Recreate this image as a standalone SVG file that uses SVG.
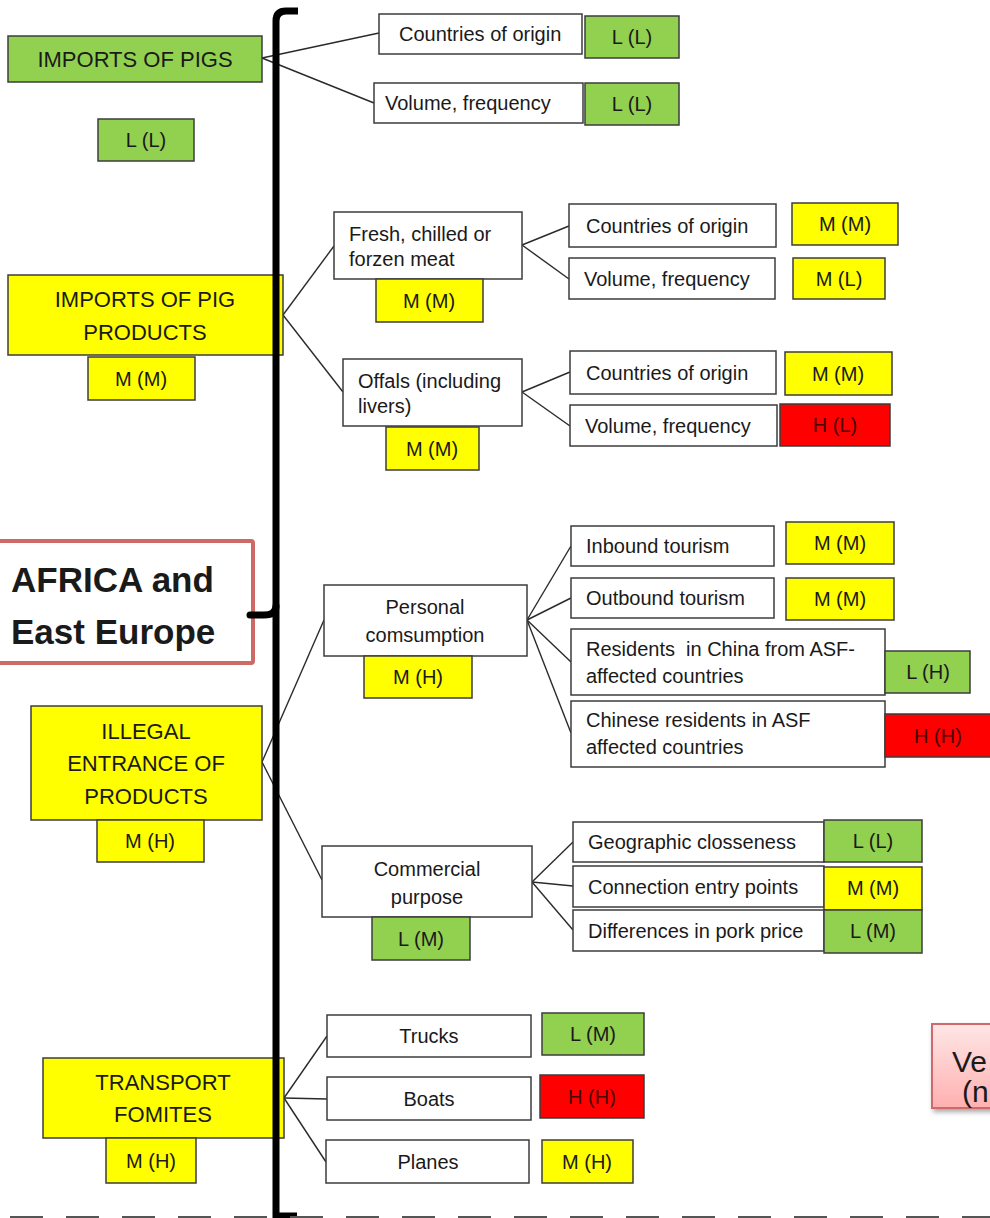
<svg xmlns="http://www.w3.org/2000/svg" width="990" height="1218" viewBox="0 0 990 1218">
  <style>
    text { font-family: "Liberation Sans", Arial, sans-serif; fill: #1a1a1a; }
    .box { stroke: #3c3c3c; stroke-width: 1.5; }
    .w { fill: #ffffff; }
    .g { fill: #92d050; }
    .y { fill: #ffff00; }
    .r { fill: #ff0000; }
    .big { font-size: 22px; text-anchor: middle; }
    .lbl { font-size: 20px; }
    .mid { font-size: 20px; text-anchor: middle; }
    .sc { font-size: 20px; text-anchor: middle; }
    .rt { fill: #4a0000; }
    .conn line { stroke: #2a2a2a; stroke-width: 1.4; }
  </style>
  <defs>
    <linearGradient id="pinkFill" x1="0" y1="0" x2="0" y2="1">
      <stop offset="0" stop-color="#ffe6e6"/>
      <stop offset="1" stop-color="#ffb0b0"/>
    </linearGradient>
    <filter id="shadow" x="-20%" y="-20%" width="140%" height="150%">
      <feDropShadow dx="2" dy="3" stdDeviation="2.5" flood-color="#000" flood-opacity="0.35"/>
    </filter>
  </defs>
  <rect width="990" height="1218" fill="#ffffff"/>

  <!-- connectors -->
  <g id="connectors" class="conn">
    <line x1="262" y1="58" x2="379" y2="33"/>
    <line x1="262" y1="58" x2="374" y2="103"/>
    <line x1="283" y1="315" x2="334" y2="246"/>
    <line x1="283" y1="315" x2="343" y2="392"/>
    <line x1="522" y1="245" x2="569" y2="226"/>
    <line x1="522" y1="245" x2="569" y2="279"/>
    <line x1="522" y1="392" x2="570" y2="372"/>
    <line x1="522" y1="392" x2="570" y2="426"/>
    <line x1="262" y1="762" x2="324" y2="620"/>
    <line x1="262" y1="762" x2="322" y2="880"/>
    <line x1="527" y1="620" x2="571" y2="546"/>
    <line x1="527" y1="620" x2="571" y2="598"/>
    <line x1="527" y1="620" x2="571" y2="662"/>
    <line x1="527" y1="620" x2="571" y2="733"/>
    <line x1="532" y1="882" x2="573" y2="842"/>
    <line x1="532" y1="882" x2="573" y2="886"/>
    <line x1="532" y1="882" x2="573" y2="930"/>
    <line x1="284" y1="1098" x2="327" y2="1036"/>
    <line x1="284" y1="1098" x2="327" y2="1099"/>
    <line x1="284" y1="1098" x2="326" y2="1162"/>
  </g>

  <!-- imports of pigs -->
  <g id="imports-pigs">
    <rect class="box g" x="8" y="36" width="254" height="46"/>
    <text class="big" x="135" y="67">IMPORTS OF PIGS</text>
  </g>
  <g id="imports-pigs-score">
    <rect class="box g" x="98" y="119" width="96" height="42"/>
    <text class="sc" x="146" y="147">L (L)</text>
  </g>
  <g id="pigs-origin">
    <rect class="box w" x="379" y="14" width="203" height="40"/>
    <text class="lbl" x="399" y="41">Countries of origin</text>
  </g>
  <g id="pigs-origin-score">
    <rect class="box g" x="585" y="16" width="94" height="42"/>
    <text class="sc" x="632" y="44">L (L)</text>
  </g>
  <g id="pigs-volume">
    <rect class="box w" x="374" y="83" width="209" height="40"/>
    <text class="lbl" x="385" y="110">Volume, frequency</text>
  </g>
  <g id="pigs-volume-score">
    <rect class="box g" x="585" y="83" width="94" height="42"/>
    <text class="sc" x="632" y="111">L (L)</text>
  </g>

  <!-- imports of pig products -->
  <g id="imports-products">
    <rect class="box y" x="8" y="275" width="275" height="80"/>
    <text class="big" x="145" y="307">IMPORTS OF PIG</text>
    <text class="big" x="145" y="340">PRODUCTS</text>
  </g>
  <g id="imports-products-score">
    <rect class="box y" x="88" y="357" width="107" height="43"/>
    <text class="sc" x="141" y="386">M (M)</text>
  </g>
  <g id="fresh-meat">
    <rect class="box w" x="334" y="212" width="188" height="67"/>
    <text class="lbl" x="349" y="241">Fresh, chilled or</text>
    <text class="lbl" x="349" y="266">forzen meat</text>
  </g>
  <g id="fresh-meat-score">
    <rect class="box y" x="376" y="279" width="107" height="43"/>
    <text class="sc" x="429" y="308">M (M)</text>
  </g>
  <g id="meat-origin">
    <rect class="box w" x="569" y="204" width="207" height="43"/>
    <text class="lbl" x="586" y="233">Countries of origin</text>
  </g>
  <g id="meat-origin-score">
    <rect class="box y" x="792" y="203" width="106" height="42"/>
    <text class="sc" x="845" y="231">M (M)</text>
  </g>
  <g id="meat-volume">
    <rect class="box w" x="569" y="258" width="206" height="41"/>
    <text class="lbl" x="584" y="286">Volume, frequency</text>
  </g>
  <g id="meat-volume-score">
    <rect class="box y" x="793" y="258" width="92" height="41"/>
    <text class="sc" x="839" y="286">M (L)</text>
  </g>
  <g id="offals">
    <rect class="box w" x="343" y="359" width="179" height="67"/>
    <text class="lbl" x="358" y="388">Offals (including</text>
    <text class="lbl" x="358" y="413">livers)</text>
  </g>
  <g id="offals-score">
    <rect class="box y" x="386" y="427" width="93" height="43"/>
    <text class="sc" x="432" y="456">M (M)</text>
  </g>
  <g id="offals-origin">
    <rect class="box w" x="570" y="351" width="206" height="43"/>
    <text class="lbl" x="586" y="380">Countries of origin</text>
  </g>
  <g id="offals-origin-score">
    <rect class="box y" x="785" y="352" width="107" height="43"/>
    <text class="sc" x="838" y="381">M (M)</text>
  </g>
  <g id="offals-volume">
    <rect class="box w" x="570" y="405" width="207" height="41"/>
    <text class="lbl" x="585" y="433">Volume, frequency</text>
  </g>
  <g id="offals-volume-score">
    <rect class="box r" x="780" y="404" width="110" height="42"/>
    <text class="sc rt" x="835" y="432">H (L)</text>
  </g>

  <!-- region label -->
  <g id="region">
    <rect x="-3" y="541" width="256" height="122" fill="#ffffff" stroke="#cd6a66" stroke-width="4" rx="2"/>
    <text x="11" y="592" font-size="35" font-weight="bold" fill="#000">AFRICA and</text>
    <text x="11" y="644" font-size="35" font-weight="bold" fill="#000">East Europe</text>
  </g>

  <!-- illegal entrance of products -->
  <g id="illegal">
    <rect class="box y" x="31" y="706" width="231" height="114"/>
    <text class="big" x="146" y="739">ILLEGAL</text>
    <text class="big" x="146" y="771">ENTRANCE OF</text>
    <text class="big" x="146" y="804">PRODUCTS</text>
  </g>
  <g id="illegal-score">
    <rect class="box y" x="97" y="820" width="107" height="42"/>
    <text class="sc" x="150" y="848">M (H)</text>
  </g>
  <g id="personal">
    <rect class="box w" x="324" y="585" width="203" height="71"/>
    <text class="mid" x="425" y="614">Personal</text>
    <text class="mid" x="425" y="642">comsumption</text>
  </g>
  <g id="personal-score">
    <rect class="box y" x="364" y="656" width="108" height="42"/>
    <text class="sc" x="418" y="684">M (H)</text>
  </g>
  <g id="inbound">
    <rect class="box w" x="571" y="526" width="203" height="40"/>
    <text class="lbl" x="586" y="553">Inbound tourism</text>
  </g>
  <g id="inbound-score">
    <rect class="box y" x="786" y="522" width="108" height="42"/>
    <text class="sc" x="840" y="550">M (M)</text>
  </g>
  <g id="outbound">
    <rect class="box w" x="571" y="578" width="203" height="40"/>
    <text class="lbl" x="586" y="605">Outbound tourism</text>
  </g>
  <g id="outbound-score">
    <rect class="box y" x="786" y="578" width="108" height="42"/>
    <text class="sc" x="840" y="606">M (M)</text>
  </g>
  <g id="residents-china">
    <rect class="box w" x="571" y="629" width="314" height="66"/>
    <text class="lbl" x="586" y="656" xml:space="preserve">Residents  in China from ASF-</text>
    <text class="lbl" x="586" y="683">affected countries</text>
  </g>
  <g id="residents-china-score">
    <rect class="box g" x="885" y="651" width="85" height="42"/>
    <text class="sc" x="928" y="679">L (H)</text>
  </g>
  <g id="residents-abroad">
    <rect class="box w" x="571" y="701" width="314" height="66"/>
    <text class="lbl" x="586" y="727">Chinese residents in ASF</text>
    <text class="lbl" x="586" y="754">affected countries</text>
  </g>
  <g id="residents-abroad-score">
    <rect class="box r" x="885" y="714" width="110" height="43"/>
    <text class="sc rt" x="938" y="743">H (H)</text>
  </g>
  <g id="commercial">
    <rect class="box w" x="322" y="846" width="210" height="71"/>
    <text class="mid" x="427" y="876">Commercial</text>
    <text class="mid" x="427" y="904">purpose</text>
  </g>
  <g id="commercial-score">
    <rect class="box g" x="372" y="917" width="98" height="43"/>
    <text class="sc" x="421" y="946">L (M)</text>
  </g>
  <g id="geographic">
    <rect class="box w" x="573" y="822" width="251" height="40"/>
    <text class="lbl" x="588" y="849">Geographic closseness</text>
  </g>
  <g id="geographic-score">
    <rect class="box g" x="824" y="820" width="98" height="42"/>
    <text class="sc" x="873" y="848">L (L)</text>
  </g>
  <g id="entry-points">
    <rect class="box w" x="573" y="866" width="251" height="41"/>
    <text class="lbl" x="588" y="894">Connection entry points</text>
  </g>
  <g id="entry-points-score">
    <rect class="box y" x="824" y="867" width="98" height="43"/>
    <text class="sc" x="873" y="895">M (M)</text>
  </g>
  <g id="pork-price">
    <rect class="box w" x="573" y="910" width="251" height="41"/>
    <text class="lbl" x="588" y="938">Differences in pork price</text>
  </g>
  <g id="pork-price-score">
    <rect class="box g" x="824" y="910" width="98" height="43"/>
    <text class="sc" x="873" y="938">L (M)</text>
  </g>

  <!-- transport fomites -->
  <g id="transport">
    <rect class="box y" x="43" y="1058" width="241" height="80"/>
    <text class="big" x="163" y="1090">TRANSPORT</text>
    <text class="big" x="163" y="1122">FOMITES</text>
  </g>
  <g id="transport-score">
    <rect class="box y" x="106" y="1138" width="90" height="45"/>
    <text class="sc" x="151" y="1168">M (H)</text>
  </g>
  <g id="trucks">
    <rect class="box w" x="327" y="1015" width="204" height="42"/>
    <text class="mid" x="429" y="1043">Trucks</text>
  </g>
  <g id="trucks-score">
    <rect class="box g" x="542" y="1013" width="102" height="42"/>
    <text class="sc" x="593" y="1041">L (M)</text>
  </g>
  <g id="boats">
    <rect class="box w" x="327" y="1077" width="204" height="43"/>
    <text class="mid" x="429" y="1106">Boats</text>
  </g>
  <g id="boats-score">
    <rect class="box r" x="540" y="1075" width="104" height="43"/>
    <text class="sc rt" x="592" y="1104">H (H)</text>
  </g>
  <g id="planes">
    <rect class="box w" x="326" y="1140" width="203" height="43"/>
    <text class="mid" x="428" y="1169">Planes</text>
  </g>
  <g id="planes-score">
    <rect class="box y" x="542" y="1140" width="91" height="43"/>
    <text class="sc" x="587" y="1169">M (H)</text>
  </g>

  <!-- grouping bracket -->
  <g id="bracket" fill="none" stroke="#000">
    <path d="M298,11 H286 Q276,11 276,21 V1216 H297" stroke-width="7"/>
    <path d="M276,606 Q276,615 264,615 H250" stroke-width="7" stroke-linecap="round"/>
  </g>

  <!-- cut-off label box at lower right -->
  <g id="vector-note">
    <rect x="932" y="1024" width="80" height="84" fill="url(#pinkFill)" stroke="#d06a6a" stroke-width="2" filter="url(#shadow)"/>
    <text x="952" y="1072" font-size="30" fill="#000">Ve</text>
    <text x="962" y="1102" font-size="30" fill="#000">(n</text>
  </g>

  <!-- boundary line -->
  <line id="boundary" x1="10" y1="1217" x2="990" y2="1217" stroke="#555" stroke-width="2" stroke-dasharray="33 23"/>
</svg>
